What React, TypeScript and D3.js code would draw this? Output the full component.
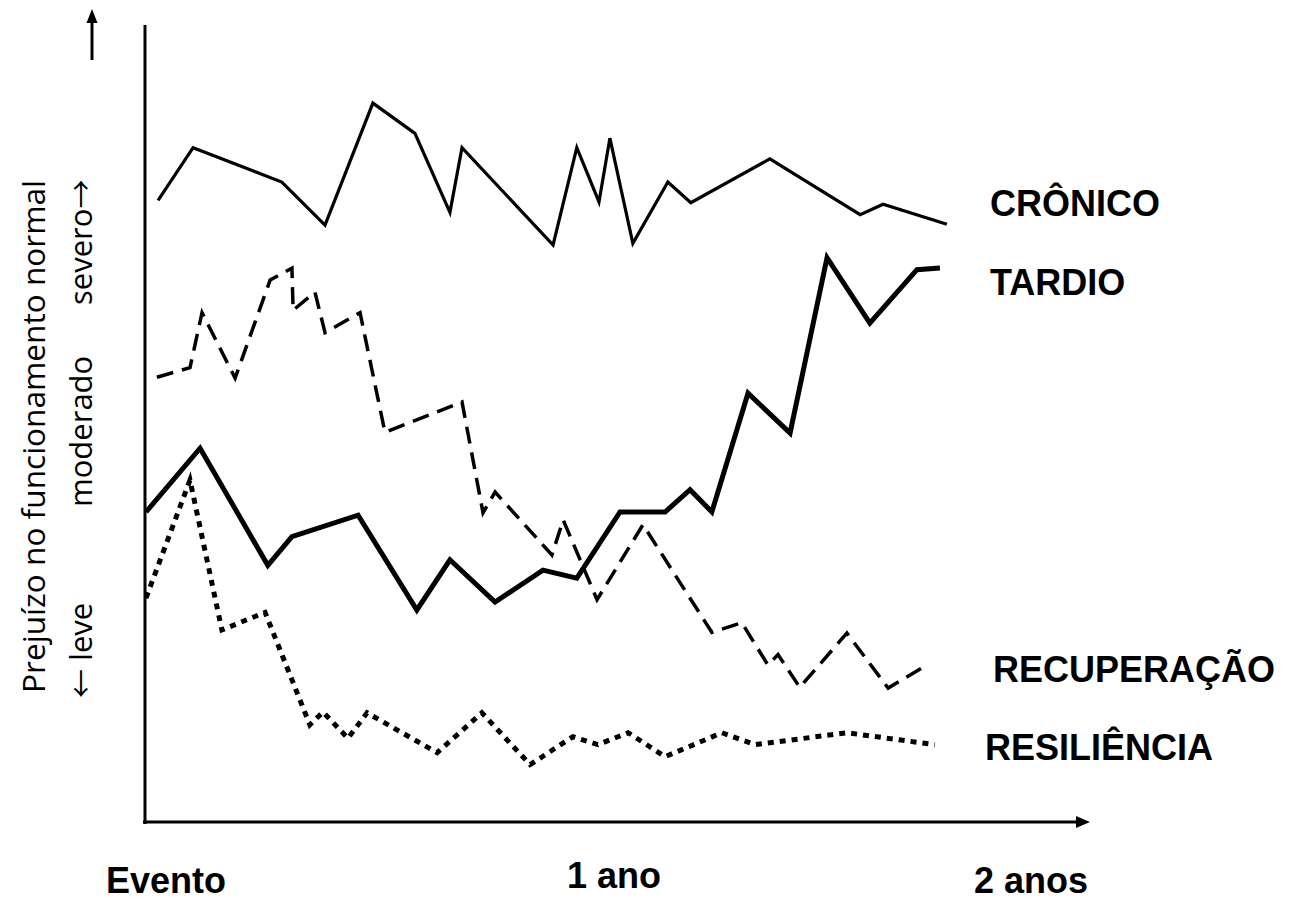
import React from "react";
import * as d3 from "d3";

// time in months since event, severity 0-100
const cronicoT = [0.31, 1.21, 3.49, 4.6, 5.83, 6.91, 7.81, 8.12, 10.46, 11.07, 11.64, 11.92, 12.51, 13.41, 14.0, 16.03, 18.35, 18.94, 20.58];
const cronicoV = [78.0, 84.6, 80.3, 74.9, 90.2, 86.4, 76.5, 84.6, 72.4, 84.6, 77.8, 85.8, 72.6, 80.3, 77.7, 83.2, 76.2, 77.5, 75.0];

const tardioT = [0, 1.39, 3.13, 3.75, 5.45, 6.96, 7.81, 8.97, 10.2, 11.07, 12.18, 13.34, 13.98, 14.54, 15.47, 16.55, 17.5, 18.6, 19.81, 20.4];
const tardioV = [38.9, 46.9, 32.2, 35.8, 38.5, 26.6, 32.9, 27.6, 31.6, 30.6, 38.9, 38.9, 41.7, 38.9, 53.8, 48.8, 70.8, 62.6, 69.3, 69.5];

const recupT = [0.28, 1.13, 1.44, 2.29, 3.19, 3.75, 3.78, 4.34, 4.6, 5.5, 6.14, 8.12, 8.66, 8.97, 10.43, 10.72, 11.59, 12.77, 14.54, 15.31, 15.98, 16.24, 16.8, 18.01, 19.07, 20.07];
const recupV = [55.8, 57.0, 63.9, 55.7, 68.0, 69.5, 64.2, 66.5, 61.4, 63.9, 48.9, 52.7, 38.8, 41.4, 33.5, 37.9, 27.9, 37.3, 23.8, 25.0, 19.7, 21.0, 16.9, 23.7, 16.8, 19.7];

const resilT = [0, 1.13, 1.95, 3.06, 4.21, 4.55, 5.19, 5.68, 7.48, 8.63, 9.87, 10.97, 11.61, 12.39, 13.34, 14.8, 15.65, 18.01, 20.27];
const resilV = [28.1, 42.9, 24.1, 26.3, 12.2, 13.8, 10.5, 13.7, 8.7, 13.7, 7.2, 10.7, 9.7, 11.2, 8.2, 11.2, 9.7, 11.2, 9.7];

const seriesNames = ["CRÔNICO", "TARDIO", "RECUPERAÇÃO", "RESILIÊNCIA"];
const xLabels = ["Evento", "1 ano", "2 anos"];
const yTitle = "Prejuízo no funcionamento normal";
const yLevels = ["leve", "moderado", "severo"];

export default function App() {
  const W = 1290, H = 900;
  const x = d3.scaleLinear().domain([0, 12]).range([146, 613]);
  const y = d3.scaleLinear().domain([0, 100]).range([822, 25]);
  const line = d3.line<[number, number]>().x(d => x(d[0])).y(d => y(d[1]));
  const mk = (t: number[], v: number[]) => t.map((ti, i) => [ti, v[i]] as [number, number]);

  const series = [
    { d: mk(cronicoT, cronicoV), w: 3.2, dash: undefined as string | undefined },
    { d: mk(tardioT, tardioV), w: 5, dash: undefined },
    { d: mk(recupT, recupV), w: 3.5, dash: "17,9" },
    { d: mk(resilT, resilV), w: 5, dash: "6,6" },
  ];

  const labelPos = [
    { x: 990, y: 216 },
    { x: 990, y: 295 },
    { x: 993, y: 682 },
    { x: 985, y: 760 },
  ];
  const bold = { fontFamily: "Liberation Sans, Arial, sans-serif", fontWeight: 700, fontSize: 36 } as const;
  const arrowFont = "Noto Sans CJK SC, DejaVu Sans, sans-serif";

  return (
    <svg width={W} height={H} style={{ position: "absolute", left: 0, top: 0, background: "#fff" }}>
      <rect width={W} height={H} fill="#fff" />
      {/* axes */}
      <line x1={x(0) - 1} y1={y(100)} x2={x(0) - 1} y2={y(0) + 2} stroke="#000" strokeWidth={3} />
      <line x1={x(0) - 3} y1={y(0)} x2={1078} y2={y(0)} stroke="#000" strokeWidth={3} />
      <path d={`M1090,${y(0)} L1076,${y(0) - 6} L1076,${y(0) + 6} Z`} fill="#000" />
      {/* separate up arrow */}
      <line x1={92} y1={60} x2={92} y2={20} stroke="#000" strokeWidth={3} />
      <path d="M92,9 L86.5,23 L97.5,23 Z" fill="#000" />

      {series.map((s, i) => (
        <path key={i} d={line(s.d) || ""} fill="none" stroke="#000" strokeWidth={s.w}
          strokeDasharray={s.dash} strokeLinejoin="miter" strokeLinecap="butt" />
      ))}

      {seriesNames.map((n, i) => (
        <text key={n} x={labelPos[i].x} y={labelPos[i].y} {...bold}>{n}</text>
      ))}

      <text x={106} y={893} {...bold}>{xLabels[0]}</text>
      <text x={567} y={888} {...bold}>{xLabels[1]}</text>
      <text x={974} y={893} {...bold}>{xLabels[2]}</text>

      <g style={{ fontFamily: "Open Sans, sans-serif", fontSize: 31 }} fill="#000">
        <text transform="translate(45,693) rotate(-90)" textLength={513} lengthAdjust="spacingAndGlyphs">{yTitle}</text>
        <text transform="translate(92,698) rotate(-90)">
          <tspan style={{ fontFamily: arrowFont, fontSize: 29 }}>←</tspan>
          <tspan> {yLevels[0]}</tspan>
        </text>
        <text transform="translate(92,507) rotate(-90)">{yLevels[1]}</text>
        <text transform="translate(92,305) rotate(-90)">
          <tspan>{yLevels[2]}</tspan>
          <tspan style={{ fontFamily: arrowFont, fontSize: 29 }}>→</tspan>
        </text>
      </g>
    </svg>
  );
}
